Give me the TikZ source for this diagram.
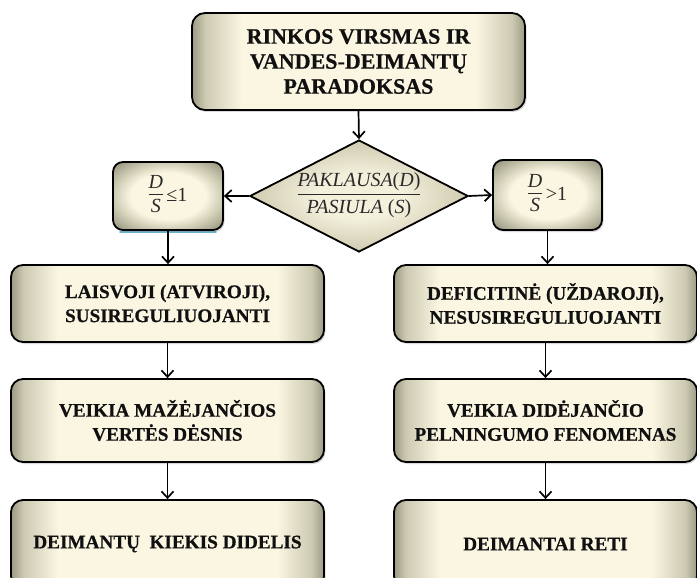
\documentclass[tikz,border=0pt]{standalone}
\usepackage{fontspec}
\setmainfont{Liberation Serif}
\newfontfamily\heavyserif[BoldFeatures={FakeBold=0.6}]{Liberation Serif}
\usetikzlibrary{arrows.meta,shapes.geometric,shadows}
\definecolor{cream}{HTML}{FAF6E2}
\definecolor{edgeA}{HTML}{9C9A84}
\definecolor{edgeB}{HTML}{CDCAB2}
\definecolor{diaA}{HTML}{F3F0DC}
\definecolor{diaB}{HTML}{CFCBB0}
\definecolor{blueedge}{HTML}{4FA8CC}
\definecolor{txt}{HTML}{101010}
\definecolor{mtxt}{HTML}{2A2A2A}
\pgfdeclarehorizontalshading{boxshade}{100bp}{color(0bp)=(edgeA); color(25bp)=(edgeA); color(27bp)=(edgeB); color(32.5bp)=(cream); color(67.5bp)=(cream); color(73bp)=(edgeB); color(75bp)=(edgeA); color(100bp)=(edgeA)}
\pgfdeclareradialshading{smallshade}{\pgfpoint{0bp}{0bp}}{color(0bp)=(cream); color(17bp)=(cream); color(25bp)=(edgeB); color(33bp)=(edgeA); color(50bp)=(edgeA)}
\pgfdeclareradialshading{diashade}{\pgfpoint{0bp}{0bp}}{color(0bp)=(diaA); color(10bp)=(diaA); color(25bp)=(diaB); color(50bp)=(diaB)}
\tikzset{
  boxbase/.style={draw=black, line width=1.8pt, text=txt, align=center, inner sep=0pt,
    drop shadow={shadow xshift=1.5pt, shadow yshift=-2pt, opacity=0.3}},
  bigbox/.style={boxbase, rounded corners=13pt, shading=boxshade,
    font={\heavyserif\fontsize{22}{25}\selectfont\bfseries}},
  rowbox/.style={boxbase, rounded corners=12pt, shading=boxshade,
    font={\heavyserif\fontsize{19.2}{24}\selectfont\bfseries}},
  smallbox/.style={boxbase, rounded corners=10pt, shading=smallshade, text=mtxt,
    font={\fontsize{20}{22}\selectfont}},
  dia/.style={diamond, aspect=2, draw=black, line width=1.8pt, shading=diashade, inner sep=0pt,
    minimum width=218pt, minimum height=112pt, text=mtxt, font={\fontsize{20}{21}\selectfont}},
  arr/.style={line width=1.7pt, -{Straight Barb[length=6.5pt,width=12pt,line width=1.7pt]}},
  blueline/.style={draw=blueedge, line width=1.6pt, opacity=0.85, line cap=round}
}
\begin{document}
\begin{tikzpicture}[x=1pt,y=-1pt]
\useasboundingbox (0,0) rectangle (697,578);
\clip (0,0) rectangle (697,578);
% blue glow lines
\coordinate (bl1) at (120,232);
\coordinate (bl2) at (216,232);
\coordinate (br1) at (500,159.5);
\coordinate (br2) at (595,159.5);
\draw[blueline] (bl1) -- (bl2);
\draw[blueline] (br1) -- (br2);
% nodes
\node[bigbox, minimum width=333pt, minimum height=97pt] (top) at (358.5,61.5)
  {RINKOS VIRSMAS IR\\VANDES-DEIMANTŲ\\PARADOKSAS};
\node[dia] (dia) at (359,196)
  {\begin{tabular}{@{}c@{}}\itshape PAKLAUSA{\upshape(}D{\upshape)}\\[1pt]\hline\rule{0pt}{19pt}\itshape PASIULA {\upshape(}S{\upshape)}\end{tabular}};
\node[smallbox, minimum width=110pt, minimum height=68pt] (ls) at (168,196)
  {\begin{tabular}{@{}c@{}}\itshape D\\[-1pt]\hline\rule{0pt}{18pt}\itshape S\end{tabular}\,≤1};
\node[smallbox, minimum width=109pt, minimum height=70pt] (rs) at (547.5,195)
  {\begin{tabular}{@{}c@{}}\itshape D\\[-1pt]\hline\rule{0pt}{18pt}\itshape S\end{tabular}\,>1};
\node[rowbox, minimum width=313pt, minimum height=77pt] (l2) at (167.5,303.5)
  {LAISVOJI (ATVIROJI),\\SUSIREGULIUOJANTI};
\node[rowbox, minimum width=303pt, minimum height=77pt] (r2) at (545.5,303.5)
  {DEFICITINĖ (UŽDAROJI),\\NESUSIREGULIUOJANTI};
\node[rowbox, minimum width=313pt, minimum height=83pt] (l3) at (167.5,420.5)
  {VEIKIA MAŽĖJANČIOS\\VERTĖS DĖSNIS};
\node[rowbox, minimum width=303pt, minimum height=83pt] (r3) at (545.5,420.5)
  {VEIKIA DIDĖJANČIO\\PELNINGUMO FENOMENAS};
\node[rowbox, minimum width=313pt, minimum height=88pt] (l4) at (167.5,544)
  {DEIMANTŲ~ KIEKIS DIDELIS};
\node[rowbox, minimum width=303pt, minimum height=88pt] (r4) at (545.5,544)
  {DEIMANTAI RETI};
% connectors
\draw[arr] (top.south) -- (dia.north);
\draw[arr] (dia.west) -- (ls.east);
\draw[arr] (dia.east) -- (rs.west);
\draw[arr] (ls.south) -- (ls.south |- l2.north);
\draw[arr] (rs.south) -- (rs.south |- r2.north);
\draw[arr] (l2.south) -- (l3.north);
\draw[arr] (r2.south) -- (r3.north);
\draw[arr] (l3.south) -- (l4.north);
\draw[arr] (r3.south) -- (r4.north);
\end{tikzpicture}
\end{document}
